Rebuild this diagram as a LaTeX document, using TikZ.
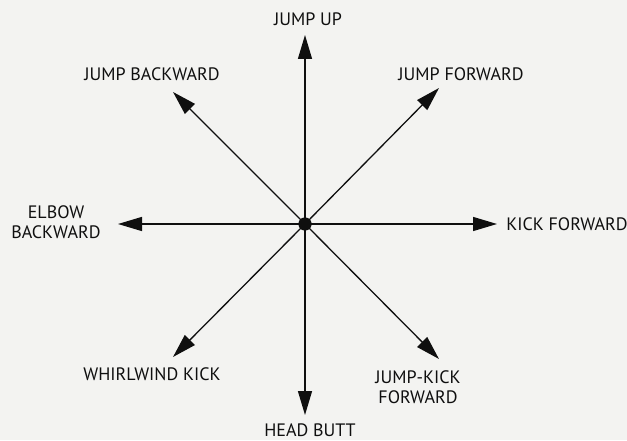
\documentclass[tikz,border=0pt]{standalone}
\usepackage{fontspec}
\setmainfont{PT Sans}
\usetikzlibrary{arrows.meta}
\definecolor{paper}{RGB}{243,243,241}
\definecolor{ink}{RGB}{15,15,15}
\begin{document}
\begin{tikzpicture}[x=1pt,y=1pt,
  lbl/.style={font=\fontsize{18}{20}\selectfont, text=ink, inner sep=0pt, align=center},
  move/.style={draw=ink, line width=1.3pt, -{Triangle[length=24pt,width=14pt]}},
  hub/.style={circle, fill=ink, minimum size=13pt, inner sep=0pt}]
\fill[paper] (0,0) rectangle (627,440);
\useasboundingbox (0,0) rectangle (627,440);
\node[hub] (c) at (305,216) {};
\coordinate (tU) at (305,405);
\coordinate (tD) at (305,25);
\coordinate (tL) at (118,216);
\coordinate (tR) at (497,216);
\coordinate (tUL) at (173,348);
\coordinate (tUR) at (439,352);
\coordinate (tDL) at (173,83);
\coordinate (tDR) at (439,81);
\foreach \t in {tU,tD,tL,tR,tUL,tUR,tDL,tDR} \draw[move] (c.center) -- (\t);
\node[hub] at (c) {};
\node[lbl] (lU) at (308,421) {JUMP UP};
\node[lbl] (lUL) at (152,366) {JUMP BACKWARD};
\node[lbl] (lUR) at (461,366) {JUMP FORWARD};
\node[lbl] (lR) at (567,216) {KICK FORWARD};
\node[lbl] (lL) at (56,218) {ELBOW\\BACKWARD};
\node[lbl] (lDL) at (152,66) {WHIRLWIND KICK};
\node[lbl] (lD) at (310,10) {HEAD BUTT};
\node[lbl] (lDR) at (418,53) {JUMP-KICK\\FORWARD};
\end{tikzpicture}
\end{document}
